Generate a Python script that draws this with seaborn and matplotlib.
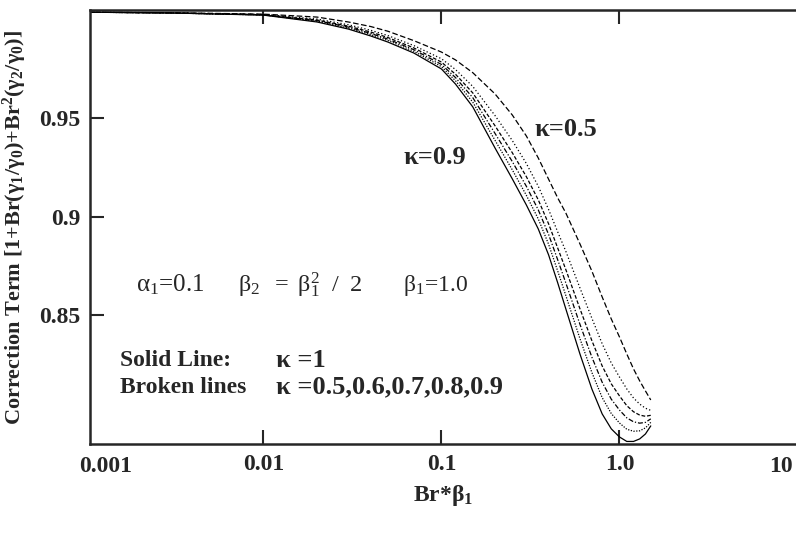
import numpy as np
import pandas as pd
import matplotlib
matplotlib.use("Agg")
import matplotlib.pyplot as plt
import matplotlib.transforms as mtransforms
import seaborn as sns
from matplotlib.ticker import FixedLocator, FixedFormatter, NullLocator

# ---- data ----
br_beta = [0.001, 0.003, 0.01, 0.02, 0.03, 0.04, 0.05, 0.07, 0.1, 0.12, 0.15, 0.2, 0.25,
           0.3, 0.35, 0.4, 0.45, 0.5, 0.6, 0.7, 0.8, 0.9, 1.0, 1.1, 1.2, 1.3, 1.4, 1.5]

kappa_10 = [1.0040, 1.0036, 1.0025, 0.9990, 0.9954, 0.9919, 0.9888, 0.9832, 0.9751, 0.9674,
            0.9558, 0.9349, 0.9192, 0.9059, 0.8937, 0.8805, 0.8663, 0.8530, 0.8301, 0.8123,
            0.7996, 0.7920, 0.7879, 0.7856, 0.7856, 0.7869, 0.7894, 0.7935]
kappa_09 = [1.0040, 1.0036, 1.0026, 0.9994, 0.9959, 0.9926, 0.9896, 0.9841, 0.9763, 0.9691,
            0.9582, 0.9388, 0.9238, 0.9108, 0.8988, 0.8859, 0.8723, 0.8598, 0.8379, 0.8207,
            0.8079, 0.7998, 0.7950, 0.7918, 0.7908, 0.7910, 0.7925, 0.7953]
kappa_08 = [1.0040, 1.0036, 1.0026, 0.9997, 0.9964, 0.9932, 0.9903, 0.9849, 0.9774, 0.9707,
            0.9605, 0.9423, 0.9280, 0.9154, 0.9034, 0.8909, 0.8780, 0.8662, 0.8452, 0.8285,
            0.8157, 0.8071, 0.8016, 0.7976, 0.7956, 0.7949, 0.7953, 0.7971]
kappa_07 = [1.0040, 1.0036, 1.0027, 1.0000, 0.9969, 0.9939, 0.9911, 0.9858, 0.9786, 0.9724,
            0.9629, 0.9462, 0.9325, 0.9203, 0.9085, 0.8963, 0.8840, 0.8730, 0.8531, 0.8369,
            0.8240, 0.8149, 0.8088, 0.8038, 0.8007, 0.7990, 0.7984, 0.7989]
kappa_06 = [1.0040, 1.0037, 1.0028, 1.0005, 0.9976, 0.9948, 0.9921, 0.9870, 0.9803, 0.9748,
            0.9662, 0.9514, 0.9387, 0.9270, 0.9154, 0.9036, 0.8922, 0.8823, 0.8637, 0.8483,
            0.8353, 0.8255, 0.8184, 0.8123, 0.8077, 0.8046, 0.8025, 0.8014]
kappa_05 = [1.0040, 1.0037, 1.0030, 1.0015, 0.9990, 0.9967, 0.9943, 0.9895, 0.9837, 0.9797,
            0.9732, 0.9624, 0.9517, 0.9410, 0.9298, 0.9190, 0.9095, 0.9018, 0.8861, 0.8723,
            0.8591, 0.8479, 0.8388, 0.8301, 0.8225, 0.8164, 0.8113, 0.8067]

kappa_labels = ["1.0", "0.9", "0.8", "0.7", "0.6", "0.5"]
series = [kappa_10, kappa_09, kappa_08, kappa_07, kappa_06, kappa_05]

x_ticks = [0.01, 0.1, 1.0]
x_tick_labels = ["0.01", "0.1", "1.0"]
x_edge_labels = ["0.001", "10"]
y_ticks = [0.85, 0.9, 0.95]
y_tick_labels = ["0.85", "0.9", "0.95"]

rows = []
for lab, ys in zip(kappa_labels, series):
    for xv, yv in zip(br_beta, ys):
        rows.append({"x": xv, "y": yv, "kappa": lab})
df = pd.DataFrame(rows)

# ---- style ----
sns.set_style("ticks")
plt.rcParams["font.family"] = ["Liberation Serif", "DejaVu Serif"]
plt.rcParams["mathtext.fontset"] = "custom"
plt.rcParams["mathtext.rm"] = "Liberation Serif"
plt.rcParams["mathtext.it"] = "Liberation Serif:italic"
plt.rcParams["mathtext.bf"] = "Liberation Serif:bold"
plt.rcParams["mathtext.default"] = "regular"

fig = plt.figure(figsize=(7.96, 5.33), dpi=100)
ax = fig.add_axes([90 / 796, 89 / 533, 706 / 796, 434 / 533])

dashes = {"1.0": "", "0.9": (1, 1.2), "0.8": (4, 1.5, 1, 1.5),
          "0.7": (3, 1.5), "0.6": (1, 1.8), "0.5": (4.5, 2)}
sns.lineplot(data=df, x="x", y="y", style="kappa", dashes=dashes, color="black",
             linewidth=0.9, legend=False, sort=False, estimator=None, ax=ax)

ax.set_xscale("log")
ax.set_xlim(0.00106, 9.82)
ax.set_ylim(0.7843, 1.0051)

ax.xaxis.set_major_locator(FixedLocator(x_ticks))
ax.xaxis.set_major_formatter(FixedFormatter(x_tick_labels))
ax.xaxis.set_minor_locator(NullLocator())
ax.yaxis.set_major_locator(FixedLocator(y_ticks))
ax.yaxis.set_major_formatter(FixedFormatter(y_tick_labels))

ax.tick_params(axis="both", direction="in", length=10, width=1.5, labelsize=17, pad=7)
ax.tick_params(axis="x", top=True, pad=7)
for lbl in ax.get_xticklabels() + ax.get_yticklabels():
    lbl.set_fontweight("bold")

for side in ["left", "bottom", "top"]:
    ax.spines[side].set_linewidth(1.8)
ax.spines["right"].set_visible(False)

# edge tick labels (0.001 and 10)
trans = mtransforms.blended_transform_factory(ax.transData, ax.transAxes)
ax.text(0.0013, -0.027, x_edge_labels[0], transform=trans, ha="center", va="top",
        fontsize=17, fontweight="bold", clip_on=False)
ax.text(8.07, -0.027, x_edge_labels[1], transform=trans, ha="center", va="top",
        fontsize=17, fontweight="bold", clip_on=False)

ax.set_xlabel(r"Br*$\beta_1$", fontsize=17, fontweight="bold", labelpad=6)
ax.set_ylabel(r"Correction Term [1+Br($\gamma_1$/$\gamma_0$)+Br$^2$($\gamma_2$/$\gamma_0$)]",
              fontsize=16, fontweight="bold")
ax.yaxis.set_label_coords(-0.086, 0.5)

# annotations
ax.text(0.489, 0.661, "κ=0.9", transform=ax.transAxes, ha="center", va="center",
        fontsize=19, fontweight="bold")
ax.text(0.674, 0.724, "κ=0.5", transform=ax.transAxes, ha="center", va="center",
        fontsize=19, fontweight="bold")
ax.text(0.065, 0.366, r"$\alpha_1$=0.1", transform=ax.transAxes, ha="left", va="center",
        fontsize=18)
ax.text(0.21, 0.366, r"$\beta_2\ \ =\ \beta_1^2\ \ /\ \ 2$", transform=ax.transAxes,
        ha="left", va="center", fontsize=17.5)
ax.text(0.443, 0.366, r"$\beta_1$=1.0", transform=ax.transAxes, ha="left", va="center",
        fontsize=17)
ax.text(0.0425, 0.1935, "Solid Line:", transform=ax.transAxes, ha="left", va="center",
        fontsize=17, fontweight="bold")
ax.text(0.263, 0.1935, "κ =1", transform=ax.transAxes, ha="left", va="center",
        fontsize=19, fontweight="bold")
ax.text(0.0425, 0.131, "Broken lines", transform=ax.transAxes, ha="left", va="center",
        fontsize=17, fontweight="bold")
ax.text(0.263, 0.131, "κ =0.5,0.6,0.7,0.8,0.9", transform=ax.transAxes, ha="left",
        va="center", fontsize=19, fontweight="bold")

fig.savefig("out.png", dpi=100)
